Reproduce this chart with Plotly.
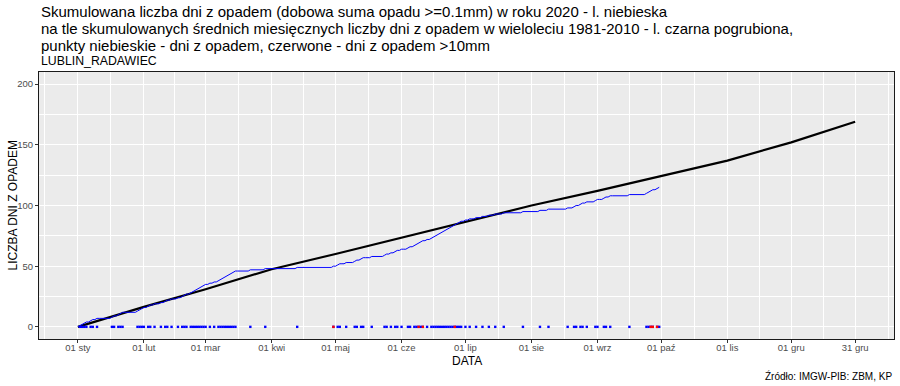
import pandas as pd
import plotly.graph_objects as go

# ---------------- data ----------------
year_start = pd.Timestamp("2020-01-01")
last_day = 273  # last observed day index (0 = 1 Jan)

# days with precipitation >= 0.1 mm (day index, 0 = 1 Jan 2020)
rain_days = [1, 2, 3, 4, 6, 7, 9, 16, 17, 19, 20, 21, 28, 29, 30,
             31, 33, 34, 36, 39, 41, 42, 44, 47, 49, 50, 51,
             53, 54, 55, 56, 57, 58, 59, 60, 62, 64, 66,
             67, 68, 69, 70, 71, 72, 73, 74, 81, 88, 103,
             120, 122, 123, 126, 130, 131, 133, 134, 138, 144, 145, 147, 149, 150,
             152, 155, 156, 158, 159, 160, 161, 162, 164, 166, 167, 168, 169,
             170, 171, 172, 173, 174, 175, 176, 177, 178, 179, 180,
             182, 184, 187, 190, 193, 196, 200, 209, 217, 221, 230,
             233, 234, 236, 237, 239, 243, 244, 247, 248, 250, 259,
             267, 268, 269, 270, 272, 273]
# days with precipitation > 10 mm
heavy_days = [120, 160, 162, 177, 269, 270, 272]

# cumulative monthly means 1981-2010
clim_dates = ["2020-01-01", "2020-02-01", "2020-03-01", "2020-04-01", "2020-05-01",
              "2020-06-01", "2020-07-01", "2020-08-01", "2020-09-01", "2020-10-01",
              "2020-11-01", "2020-12-01", "2020-12-31"]
clim_cum = [0, 16.5, 31, 47.5, 60, 73.5, 86, 100, 112, 124, 137, 152, 169]

tick_dates = clim_dates
tick_text = ["01 sty", "01 lut", "01 mar", "01 kwi", "01 maj", "01 cze", "01 lip",
             "01 sie", "01 wrz", "01 paź", "01 lis", "01 gru", "31 gru"]
y_ticks = [0, 50, 100, 150, 200]

title_lines = [
    "Skumulowana liczba dni z opadem (dobowa suma opadu >=0.1mm) w roku 2020 - l. niebieska",
    "na tle skumulowanych średnich miesięcznych liczby dni z opadem w wieloleciu 1981-2010 - l. czarna pogrubiona,",
    "punkty niebieskie - dni z opadem, czerwone - dni z opadem >10mm",
]
subtitle = "LUBLIN_RADAWIEC"
caption = "Źródło: IMGW-PIB: ZBM, KP"

# ---------------- derived ----------------
def to_date(d):
    return year_start + pd.Timedelta(days=d)

days = list(range(last_day + 1))
rain_set = set(rain_days)
cum = []
c = 0
for d in days:
    if d in rain_set:
        c += 1
    cum.append(c)
day_dates = [to_date(d) for d in days]
rain_dates = [to_date(d) for d in rain_days]
heavy_dates = [to_date(d) for d in heavy_days]

tick_ts = [pd.Timestamp(t) for t in tick_dates]
minor_x = [tick_ts[0] - (tick_ts[0] - pd.Timestamp("2019-12-01")) / 2]
minor_x += [a + (b - a) / 2 for a, b in zip(tick_ts[:-1], tick_ts[1:])]
minor_x += [tick_ts[-1] + pd.Timedelta(days=15.5)]

# ---------------- figure ----------------
fig = go.Figure()
fig.add_trace(go.Scatter(x=pd.to_datetime(clim_dates), y=clim_cum, mode="lines",
                         line=dict(color="black", width=2.2), showlegend=False))
fig.add_trace(go.Scatter(x=day_dates, y=cum, mode="lines",
                         line=dict(color="#0000ff", width=1), showlegend=False))
fig.add_trace(go.Scatter(x=rain_dates, y=[0] * len(rain_dates), mode="markers",
                         marker=dict(color="#0000ff", size=2.4, symbol="square", line=dict(width=0)),
                         showlegend=False))
fig.add_trace(go.Scatter(x=heavy_dates, y=[0] * len(heavy_dates), mode="markers",
                         marker=dict(color="#ff0000", size=2.4, symbol="square", line=dict(width=0)),
                         showlegend=False))

W, H = 900, 386
ml, mr, mt, mb = 39, 6, 72, 47
ph = H - mt - mb

def py(p):
    return (H - mb - p) / ph

font = "Liberation Sans, Arial, sans-serif"
ann = []
for txt, yy in zip(title_lines, [11, 28.5, 45.5]):
    ann.append(dict(text=txt, x=0, xref="paper", xanchor="left", y=py(yy), yref="paper",
                    yanchor="middle", showarrow=False, font=dict(size=15, color="black", family=font)))
ann.append(dict(text=subtitle, x=0, xref="paper", xanchor="left", y=py(60.5), yref="paper",
                yanchor="middle", showarrow=False, font=dict(size=12.3, color="black", family=font)))
ann.append(dict(text=caption, x=1, xref="paper", xanchor="right", y=py(376), yref="paper",
                yanchor="middle", showarrow=False, font=dict(size=10, color="black", family=font)))
ann.append(dict(text="DATA", x=0.5, xref="paper", xanchor="center", y=py(361), yref="paper",
                yanchor="middle", showarrow=False, font=dict(size=12, color="black", family=font)))
ann.append(dict(text="LICZBA DNI Z OPADEM", x=-(ml - 12) / (W - ml - mr), xref="paper", xanchor="center",
                y=0.5, yref="paper", yanchor="middle", textangle=-90, showarrow=False,
                font=dict(size=12, color="black", family=font)))

fig.update_layout(
    template="none",
    width=W, height=H,
    margin=dict(l=ml, r=mr, t=mt, b=mb, autoexpand=False),
    paper_bgcolor="white", plot_bgcolor="#ebebeb",
    font=dict(family=font),
    annotations=ann,
    xaxis=dict(type="date", automargin=False,
               range=[to_date(-18.25), to_date(383.25)],
               tickmode="array", tickvals=tick_ts, ticktext=tick_text,
               showgrid=True, gridcolor="white", gridwidth=1.1,
               minor=dict(tickmode="array", tickvals=minor_x, showgrid=True,
                          gridcolor="white", gridwidth=0.5, ticks=""),
               ticks="outside", ticklen=3, tickcolor="#333333", tickwidth=1,
               ticklabelstandoff=-3,
               tickfont=dict(size=9.5, color="#4d4d4d", family=font),
               showline=True, linecolor="#1a1a1a", linewidth=1, mirror=True,
               zeroline=False),
    yaxis=dict(range=[-10, 210], tickmode="array", tickvals=y_ticks, automargin=False,
               showgrid=True, gridcolor="white", gridwidth=1.1,
               minor=dict(tickmode="array", tickvals=[25, 75, 125, 175], showgrid=True,
                          gridcolor="white", gridwidth=0.5, ticks=""),
               ticks="outside", ticklen=3, tickcolor="#333333", tickwidth=1,
               tickfont=dict(size=9.5, color="#4d4d4d", family=font),
               showline=True, linecolor="#1a1a1a", linewidth=1, mirror=True,
               zeroline=False),
)

fig.write_html("out.html", config={"displayModeBar": False},
               post_script="document.body.style.margin='0';document.body.style.overflow='hidden';")
